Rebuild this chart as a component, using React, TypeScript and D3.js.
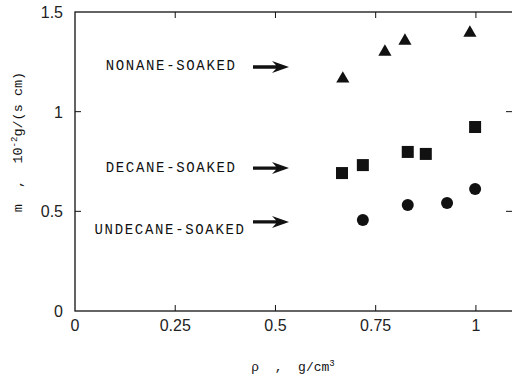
import { useEffect, useRef } from 'react';
import * as d3 from 'd3';

// density (g/cm3) and mass flux (1e-2 g/(s cm))
const nonaneRho = [0.668, 0.773, 0.823, 0.985];
const nonaneM = [1.165, 1.3, 1.355, 1.395];
const decaneRho = [0.666, 0.718, 0.83, 0.875, 0.998];
const decaneM = [0.692, 0.732, 0.798, 0.788, 0.923];
const undecaneRho = [0.718, 0.83, 0.928, 0.998];
const undecaneM = [0.457, 0.532, 0.542, 0.612];

const xTicks = [0, 0.25, 0.5, 0.75, 1];
const yTicks = [0, 0.5, 1, 1.5];

const labels = ['NONANE-SOAKED', 'DECANE-SOAKED', 'UNDECANE-SOAKED'];
const labelY = [1.232, 0.72, 0.41];
const arrowY = [1.224, 0.717, 0.447];

const W = 512;
const H = 375;
const mono = '"Liberation Mono", "DejaVu Sans Mono", monospace';
const sans = '"Liberation Sans", Arial, sans-serif';

export default function App() {
  const svgRef = useRef<SVGSVGElement>(null);

  useEffect(() => {
    const svg = d3.select(svgRef.current);
    svg.selectAll('*').remove();

    const x = d3.scaleLinear().domain([0, 1.1]).range([75, 516]);
    const y = d3.scaleLinear().domain([0, 1.5]).range([311, 12]);

    const ink = '#111';

    // frame
    svg
      .append('rect')
      .attr('x', x(0))
      .attr('y', y(1.5))
      .attr('width', x(1.1) - x(0))
      .attr('height', y(0) - y(1.5))
      .attr('fill', 'none')
      .attr('stroke', ink)
      .attr('stroke-width', 1.3);

    // inward ticks
    const tl = 6;
    svg
      .append('g')
      .selectAll('line')
      .data(xTicks.slice(1))
      .join('line')
      .attr('x1', (d) => x(d))
      .attr('x2', (d) => x(d))
      .attr('y1', y(0))
      .attr('y2', y(0) - tl)
      .attr('stroke', ink);
    svg
      .append('g')
      .selectAll('line')
      .data(xTicks.slice(1))
      .join('line')
      .attr('x1', (d) => x(d))
      .attr('x2', (d) => x(d))
      .attr('y1', y(1.5))
      .attr('y2', y(1.5) + tl)
      .attr('stroke', ink);
    svg
      .append('g')
      .selectAll('line')
      .data(yTicks.slice(1, 3))
      .join('line')
      .attr('x1', x(0))
      .attr('x2', x(0) + tl)
      .attr('y1', (d) => y(d))
      .attr('y2', (d) => y(d))
      .attr('stroke', ink);
    svg
      .append('g')
      .selectAll('line')
      .data(yTicks.slice(1, 3))
      .join('line')
      .attr('x1', 512)
      .attr('x2', 512 - tl)
      .attr('y1', (d) => y(d))
      .attr('y2', (d) => y(d))
      .attr('stroke', ink);

    // tick labels
    svg
      .append('g')
      .selectAll('text')
      .data(xTicks)
      .join('text')
      .attr('x', (d) => x(d))
      .attr('y', 331)
      .attr('text-anchor', 'middle')
      .attr('font-family', sans)
      .attr('font-size', 16)
      .attr('fill', '#222')
      .text((d) => d3.format('~g')(d));
    svg
      .append('g')
      .selectAll('text')
      .data(yTicks)
      .join('text')
      .attr('x', 63)
      .attr('y', (d) => y(d) + 6)
      .attr('text-anchor', 'end')
      .attr('font-family', sans)
      .attr('font-size', 16)
      .attr('fill', '#222')
      .text((d) => d3.format('~g')(d));

    // axis titles
    const xt = svg
      .append('text')
      .attr('x', 293)
      .attr('y', 371)
      .attr('text-anchor', 'middle')
      .attr('font-family', mono)
      .attr('font-size', 13)
      .attr('fill', ink)
      .attr('xml:space', 'preserve');
    xt.append('tspan').text('ρ  ,  g/cm');
    xt.append('tspan').attr('font-size', 9).attr('dy', -5).text('3');

    const yt = svg
      .append('text')
      .attr('transform', 'translate(22,142) rotate(-90)')
      .attr('text-anchor', 'middle')
      .attr('font-family', mono)
      .attr('font-size', 13.5)
      .attr('fill', ink)
      .attr('xml:space', 'preserve');
    yt.append('tspan').text('m  ,  10');
    yt.append('tspan').attr('font-size', 9).attr('dy', -5).text('-2');
    yt.append('tspan').attr('dy', 5).text('g/(s cm)');

    // annotations
    svg
      .append('g')
      .selectAll('text')
      .data(labels)
      .join('text')
      .attr('x', (_, i) => (i === 2 ? 244 : 235))
      .attr('y', (_, i) => y(labelY[i]) + 5)
      .attr('text-anchor', 'end')
      .attr('font-family', mono)
      .attr('font-size', 14)
      .attr('fill', ink)
      .attr('textLength', (d) => d.length * 10.1 - 2)
      .attr('lengthAdjust', 'spacing')
      .text((d) => d);

    svg
      .append('g')
      .selectAll('path')
      .data(arrowY)
      .join('path')
      .attr('fill', ink)
      .attr('d', (v) => {
        const yy = y(v);
        const x0 = 253;
        const x1 = 289;
        const p = d3.path();
        p.moveTo(x0, yy - 1.7);
        p.lineTo(x1 - 13, yy - 1.7);
        p.lineTo(x1 - 17, yy - 6);
        p.lineTo(x1, yy);
        p.lineTo(x1 - 17, yy + 6);
        p.lineTo(x1 - 13, yy + 1.7);
        p.lineTo(x0, yy + 1.7);
        p.closePath();
        return p.toString();
      });

    // markers
    const tri = d3.symbol().type(d3.symbolTriangle).size(75);
    svg
      .append('g')
      .selectAll('path')
      .data(nonaneRho)
      .join('path')
      .attr('transform', (d, i) => `translate(${x(d)},${y(nonaneM[i])})`)
      .attr('d', tri)
      .attr('fill', ink);

    svg
      .append('g')
      .selectAll('rect')
      .data(decaneRho)
      .join('rect')
      .attr('x', (d) => x(d) - 6)
      .attr('y', (_, i) => y(decaneM[i]) - 6)
      .attr('width', 12)
      .attr('height', 12)
      .attr('fill', ink);

    svg
      .append('g')
      .selectAll('circle')
      .data(undecaneRho)
      .join('circle')
      .attr('cx', (d) => x(d))
      .attr('cy', (_, i) => y(undecaneM[i]))
      .attr('r', 6)
      .attr('fill', ink);
  }, []);

  return (
    <svg
      ref={svgRef}
      width={W}
      height={H}
      style={{ position: 'absolute', left: 0, top: 0, background: '#fff' }}
    />
  );
}
